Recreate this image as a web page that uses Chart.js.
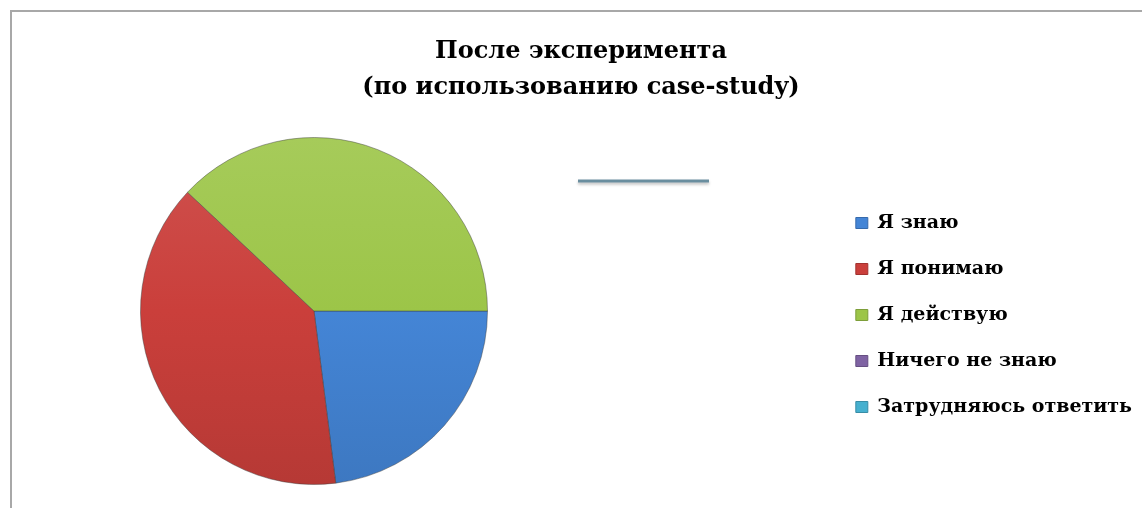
<!DOCTYPE html>
<html><head><meta charset="utf-8">
<script src="https://cdn.jsdelivr.net/npm/chart.js@4"></script>
<style>
html,body{margin:0;padding:0;background:#fff;}
#wrap{position:relative;width:1142px;height:508px;overflow:hidden;background:#fff;}
#frame{position:absolute;left:10px;top:10px;width:1200px;height:600px;border-top:2px solid #a8a8a8;border-left:2px solid #a8a8a8;}
canvas{position:absolute;left:0;top:0;}
</style></head><body>
<div id="wrap"><div id="frame"></div><canvas id="c" width="1142" height="508"></canvas></div>
<script>
const titleLines = ['После эксперимента', '(по использованию case-study)'];
const categories = ['Я знаю', 'Я понимаю', 'Я действую', 'Ничего не знаю', 'Затрудняюсь ответить'];
const values = [23, 39, 38, 0, 0];
const sliceColors = ['#4485d6', '#ca3f3b', '#9cc548', '#7f63a3', '#46b0cf'];

function shade(hex, f) {
  const n = parseInt(hex.slice(1), 16);
  let r = n >> 16, g = (n >> 8) & 255, b = n & 255;
  if (f >= 0) { r += (255 - r) * f; g += (255 - g) * f; b += (255 - b) * f; }
  else { r *= 1 + f; g *= 1 + f; b *= 1 + f; }
  return 'rgb(' + Math.round(r) + ',' + Math.round(g) + ',' + Math.round(b) + ')';
}

const pieSquare = {
  id: 'pieSquare',
  afterLayout(chart, args, opts) {
    const a = chart.chartArea;
    const h = a.bottom - a.top;
    a.left = opts.left;
    a.right = opts.left + h;
    a.width = h;
  }
};

const decoLine = {
  id: 'decoLine',
  afterDraw(chart, args, opts) {
    const ctx = chart.ctx;
    ctx.save();
    ctx.shadowColor = 'rgba(0,0,0,0.25)';
    ctx.shadowBlur = 3;
    ctx.shadowOffsetY = 2;
    ctx.strokeStyle = opts.color;
    ctx.lineWidth = 3;
    ctx.beginPath();
    ctx.moveTo(opts.x1, opts.y);
    ctx.lineTo(opts.x2, opts.y);
    ctx.stroke();
    ctx.restore();
  }
};

new Chart(document.getElementById('c'), {
  type: 'pie',
  data: {
    labels: categories,
    datasets: [{
      data: values,
      backgroundColor: (ctx) => {
        const base = sliceColors[ctx.dataIndex];
        const a = ctx.chart.chartArea;
        if (!a) return base;
        const g = ctx.chart.ctx.createLinearGradient(0, a.top, 0, a.bottom);
        g.addColorStop(0, shade(base, 0.1));
        g.addColorStop(0.5, base);
        g.addColorStop(1, shade(base, -0.1));
        return g;
      },
      borderColor: 'rgba(60,60,60,0.45)',
      borderWidth: 1
    }]
  },
  options: {
    responsive: false,
    animation: false,
    devicePixelRatio: 1,
    rotation: 90,
    layout: { padding: { left: 20, right: 0, top: 0, bottom: 23 } },
    plugins: {
      pieSquare: { left: 140 },
      decoLine: { x1: 578, x2: 709, y: 181, color: '#6a8e9f' },
      title: {
        display: true,
        text: titleLines,
        color: '#000',
        font: { family: 'DejaVu Serif', weight: 'bold', size: 24, lineHeight: 1.5 },
        padding: { top: 34, bottom: 31 }
      },
      legend: {
        position: 'right',
        fullSize: false,
        align: 'center',
        title: { display: true, text: '', font: { size: 8, lineHeight: 1 }, padding: 0 },
        labels: {
          color: '#000',
          font: { family: 'DejaVu Serif', weight: 'bold', size: 19 },
          boxWidth: 12,
          boxHeight: 11,
          padding: 27,
          generateLabels: (chart) => categories.map((c, i) => ({
            text: c, fillStyle: sliceColors[i], strokeStyle: shade(sliceColors[i], -0.2),
            lineWidth: 1, hidden: false, index: i, fontColor: '#000'
          }))
        }
      },
      tooltip: { enabled: false }
    }
  },
  plugins: [pieSquare, decoLine]
});
</script>
</body></html>
